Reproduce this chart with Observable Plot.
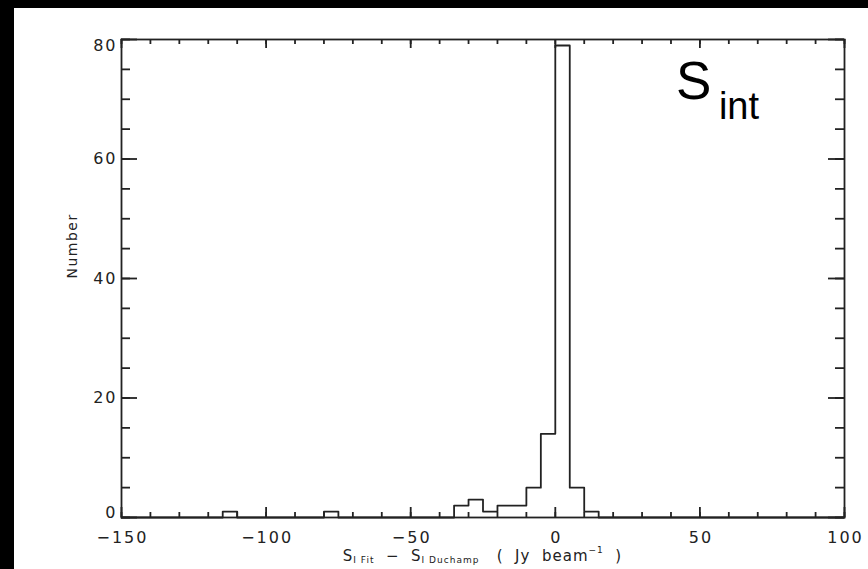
<!DOCTYPE html>
<html>
<head>
<meta charset="utf-8">
<script src="https://cdn.jsdelivr.net/npm/d3@7"></script>
<script src="https://cdn.jsdelivr.net/npm/@observablehq/plot@0.6"></script>
<style>
  html, body { margin: 0; padding: 0; background: #000; width: 868px; height: 569px; overflow: hidden; }
  #panel { position: absolute; left: 14px; top: 8px; width: 854px; height: 561px; background: #fff; }
  #panel svg { display: block; }
  #panel svg g[font-size="16"] text { letter-spacing: 2px; }
  #panel svg g[font-size="14"] text { letter-spacing: 1.5px; }
</style>
</head>
<body>
<div id="panel"></div>
<script>
// Histogram of S_I Fit − S_I Duchamp in 5 Jy/beam bins (left edges of the non-empty bins)
const binLeft  = [-115, -80, -35, -30, -25, -20, -15, -10, -5, 0, 5, 10];
const binCount = [1, 1, 2, 3, 1, 2, 2, 5, 14, 79, 5, 1];
const binWidth = 5;

// Axes
const xDomain = [-150, 100];
const yDomain = [0, 80];
const xMajor = [-150, -100, -50, 0, 50, 100];
const xMinor = d3.range(-150, 101, 10);
const yMajor = [0, 20, 40, 60, 80];
const yMinor = d3.range(0, 81, 5);
const yLabel = "Number";
const panelLabel = ["S", "int"];

const W = 854, H = 561;
const margin = {left: 107, top: 31, right: 24, bottom: 52};
const plotW = W - margin.left - margin.right;
const plotH = H - margin.top - margin.bottom;
const ink = "#222";
const fmt = d => String(d).replace("-", "\u2212");

// Step outline over the whole x range, empty bins at zero
const countAt = new Map(binLeft.map((x, i) => [x, binCount[i]]));
const steps = d3.range(xDomain[0], xDomain[1], binWidth).map(x => ({x, n: countAt.get(x) ?? 0}));
steps.push({x: xDomain[1], n: 0});

// Inward-pointing ticks drawn as inset rules spanning the frame (y1 = top, y2 = bottom)
const tick = {stroke: ink, strokeWidth: 1.8};
const bottomTicks = (ticks, len) => Plot.ruleX(ticks, {...tick, x: d => d, y1: yDomain[1], y2: yDomain[0], insetTop: plotH - len});
const topTicks = (ticks, len) => Plot.ruleX(ticks, {...tick, x: d => d, y1: yDomain[1], y2: yDomain[0], insetBottom: plotH - len});
const leftTicks = (ticks, len) => Plot.ruleY(ticks, {...tick, y: d => d, x1: xDomain[0], x2: xDomain[1], insetRight: plotW - len});
const rightTicks = (ticks, len) => Plot.ruleY(ticks, {...tick, y: d => d, x1: xDomain[0], x2: xDomain[1], insetLeft: plotW - len});

const chart = Plot.plot({
  width: W,
  height: H,
  marginLeft: margin.left,
  marginTop: margin.top,
  marginRight: margin.right,
  marginBottom: margin.bottom,
  style: {fontFamily: "DejaVu Sans", color: ink, background: "white"},
  x: {domain: xDomain, axis: null},
  y: {domain: yDomain, axis: null},
  marks: [
    bottomTicks(xMinor, 5), bottomTicks(xMajor, 10),
    topTicks(xMinor, 5), topTicks(xMajor, 9),
    leftTicks(yMinor, 9), leftTicks(yMajor, 16),
    rightTicks(yMinor, 9), rightTicks(yMajor, 16),
    Plot.frame({stroke: ink, strokeWidth: 1.8}),
    // histogram outline
    Plot.line(steps, {x: "x", y: "n", curve: "step-after", stroke: ink, strokeWidth: 1.8}),
    // tick labels
    Plot.text(xMajor, {x: d => d, frameAnchor: "bottom", lineAnchor: "bottom", dy: 25, dx: 1, text: fmt, fontSize: 16, fill: ink}),
    Plot.text(yMajor.filter(d => d > yDomain[0] && d < yDomain[1]), {y: d => d, frameAnchor: "left", textAnchor: "end", lineAnchor: "middle", dx: -4, text: fmt, fontSize: 16, fill: ink}),
    Plot.text([yDomain[0]], {y: d => d, frameAnchor: "left", textAnchor: "end", lineAnchor: "bottom", dx: -4, text: fmt, fontSize: 16, fill: ink}),
    Plot.text([yDomain[1]], {y: d => d, frameAnchor: "left", textAnchor: "end", lineAnchor: "top", dx: -4, text: fmt, fontSize: 16, fill: ink}),
    // y axis title
    Plot.text([yLabel], {frameAnchor: "left", rotate: -90, dx: -49, text: d => d, fontSize: 14, fill: ink}),
    // panel label S_int
    Plot.text([panelLabel[0]], {x: 41.7, y: 70.1, text: d => d, textAnchor: "start", lineAnchor: "bottom", fontFamily: "Liberation Sans", fontSize: 53, fill: "#000"}),
    Plot.text([panelLabel[1]], {x: 41.7, y: 70.1, dx: 43, dy: 20, text: d => d, textAnchor: "start", lineAnchor: "bottom", fontFamily: "Liberation Sans", fontSize: 38, fill: "#000"})
  ]
});

// x axis title with sub- and superscripts
const svg = d3.select(chart);
const title = svg.append("text")
  .attr("x", margin.left + plotW / 2)
  .attr("y", H - 8)
  .attr("text-anchor", "middle")
  .attr("font-family", "DejaVu Sans")
  .attr("font-size", 15)
  .attr("fill", ink)
  .style("white-space", "pre")
  .style("letter-spacing", "1px");
title.append("tspan").text("S");
title.append("tspan").attr("font-size", 9).attr("dy", 1.5).text("I Fit");
title.append("tspan").attr("dy", -1.5).text("  \u2212  ");
title.append("tspan").text("S");
title.append("tspan").attr("font-size", 9).attr("dy", 1.5).text("I Duchamp");
title.append("tspan").attr("dy", -1.5).text("   (  Jy  beam");
title.append("tspan").attr("font-size", 9).attr("dy", -8).text("\u22121");
title.append("tspan").attr("dy", 8).text("  )");

document.getElementById("panel").appendChild(chart);
</script>
</body>
</html>
